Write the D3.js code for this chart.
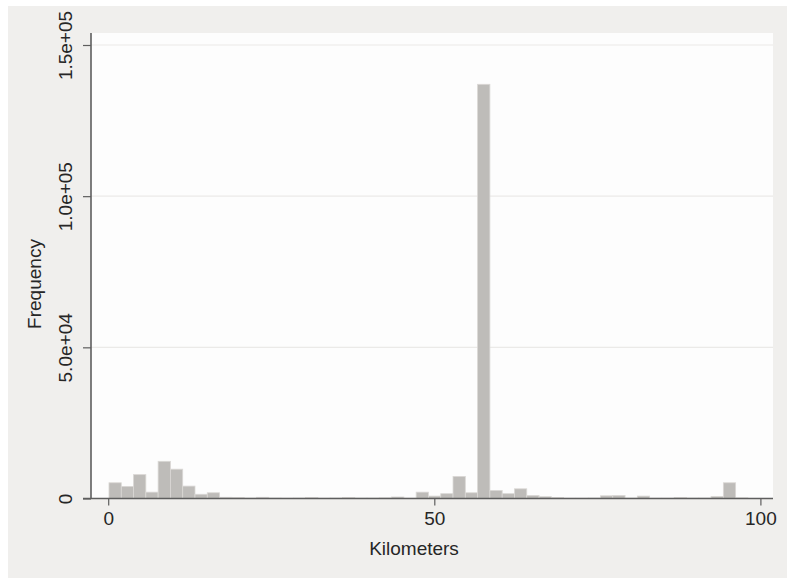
<!DOCTYPE html>
<html>
<head>
<meta charset="utf-8">
<script src="https://cdn.jsdelivr.net/npm/d3@7"></script>
<style>
  html, body { margin: 0; padding: 0; background: #ffffff; }
  svg { display: block; }
  text { font-family: "Liberation Sans", Arial, Helvetica, sans-serif; fill: #262626; }
</style>
</head>
<body>
<svg id="chart" width="787" height="578"></svg>
<script>
// ---- data ----
const binStart = 0.12;      // left edge of first bin (km)
const binWidth = 1.884;     // bin width (km)
const frequencies = [
  5200, 4000, 7900, 2100, 12300, 9700, 4100, 1400, 1900, 400,
  300, 150, 400, 150, 100, 150, 300, 100, 150, 300,
  150, 150, 200, 500, 100, 2100, 800, 1600, 7300, 1900,
  137000, 2650, 1600, 3200, 1000, 600, 300, 100, 100, 150,
  900, 1000, 150, 800, 100, 100, 300, 150, 150, 700,
  5200, 200
];
const xTicks = [0, 50, 100];
const yTicks = [0, 50000, 100000, 150000];
const yTickLabels = ["0", "5.0e+04", "1.0e+05", "1.5e+05"];
const xTitle = "Kilometers";
const yTitle = "Frequency";

// ---- layout ----
const svg = d3.select("#chart");
const W = 787, H = 578;
const plot = { left: 91, right: 773, top: 33, bottom: 498.5 };

// outer graph region
svg.append("rect").attr("x", 8).attr("y", 6).attr("width", W - 8).attr("height", H - 6)
  .attr("fill", "#f0efed");
// plot region
svg.append("rect").attr("x", plot.left).attr("y", plot.top)
  .attr("width", plot.right - plot.left).attr("height", plot.bottom - plot.top)
  .attr("fill", "#fdfdfd");

const x = d3.scaleLinear().domain([0, 100]).range([108.2, 760.4]);
const y = d3.scaleLinear().domain([0, 150000]).range([plot.bottom, 45]);

// gridlines
svg.append("g").selectAll("line").data(yTicks.filter(d => d > 0)).join("line")
  .attr("x1", plot.left).attr("x2", plot.right)
  .attr("y1", d => y(d)).attr("y2", d => y(d))
  .attr("stroke", "#ebeae8").attr("stroke-width", 1.2);

// bars
const bins = frequencies.map((f, i) => ({ x0: binStart + i * binWidth, x1: binStart + (i + 1) * binWidth, f }));
svg.append("g").selectAll("rect").data(bins).join("rect")
  .attr("x", d => x(d.x0))
  .attr("width", d => x(d.x1) - x(d.x0))
  .attr("y", d => y(d.f))
  .attr("height", d => y(0) - y(d.f))
  .attr("fill", "#bebcb9")
  .attr("stroke", "#dad8d5")
  .attr("stroke-width", 0.8);

// x axis
const xAxis = d3.axisBottom(x).tickValues(xTicks).tickSize(7).tickPadding(6).tickFormat(d3.format("d"));
const gx = svg.append("g").attr("transform", `translate(0,${plot.bottom})`).call(xAxis);
gx.select(".domain").remove();
gx.append("line").attr("x1", plot.left - 8).attr("x2", plot.right).attr("y1", 0).attr("y2", 0)
  .attr("stroke", "#5e5e5e").attr("stroke-width", 1.6);
gx.selectAll(".tick line").attr("stroke", "#5e5e5e").attr("stroke-width", 1.2);
gx.selectAll(".tick text").attr("font-size", 19).attr("fill", "#262626")
  .attr("font-family", "Liberation Sans, Arial, sans-serif");

// y axis
const yAxis = d3.axisLeft(y).tickValues(yTicks).tickSize(8).tickFormat((d, i) => yTickLabels[i]);
const gy = svg.append("g").attr("transform", `translate(${plot.left},0)`).call(yAxis);
gy.select(".domain").remove();
gy.append("line").attr("x1", 0).attr("x2", 0).attr("y1", plot.top).attr("y2", plot.bottom)
  .attr("stroke", "#5e5e5e").attr("stroke-width", 1.6);
gy.selectAll(".tick line").attr("stroke", "#5e5e5e").attr("stroke-width", 1.2);
gy.selectAll(".tick text")
  .attr("font-size", 19).attr("fill", "#262626")
  .attr("font-family", "Liberation Sans, Arial, sans-serif")
  .attr("text-anchor", "middle").attr("dy", null).attr("x", null)
  .attr("transform", "translate(-19,0) rotate(-90)");

// axis titles
svg.append("text").attr("x", 414).attr("y", 555).attr("text-anchor", "middle")
  .attr("font-size", 19).text(xTitle);
svg.append("text").attr("transform", "translate(41,284) rotate(-90)").attr("text-anchor", "middle")
  .attr("font-size", 19).text(yTitle);
</script>
</body>
</html>
